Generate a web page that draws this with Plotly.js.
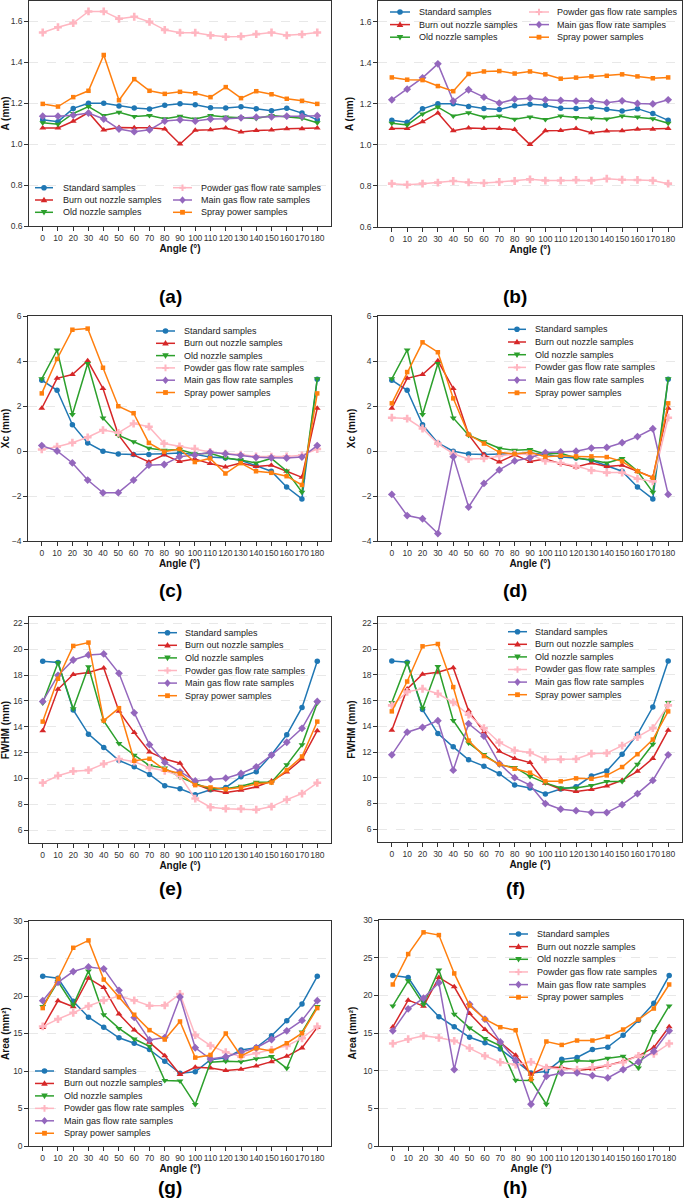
<!DOCTYPE html>
<html><head><meta charset="utf-8">
<script src="https://cdn.plot.ly/plotly-3.0.1.min.js"></script>
<style>html,body{margin:0;padding:0;background:#fff}#chart{width:685px;height:1201px}</style>
</head><body><div id="chart"></div>
<script>
const angles = [0,10,20,30,40,50,60,70,80,90,100,110,120,130,140,150,160,170,180];
const seriesNames = ['Standard samples','Burn out nozzle samples','Old nozzle samples','Powder gas flow rate samples','Main gas flow rate samples','Spray power samples'];
const panelLabels = ['(a)','(b)','(c)','(d)','(e)','(f)','(g)','(h)'];
const yTitles = ['A (mm)','A (mm)','Xc (mm)','Xc (mm)','FWHM (mm)','FWHM (mm)','Area (mm²)','Area (mm²)'];

// A (mm)
const A_standard = [1.12,1.11,1.175,1.20,1.20,1.187,1.177,1.172,1.19,1.198,1.193,1.178,1.177,1.183,1.173,1.164,1.176,1.152,1.119];
const A_burn = [1.079,1.079,1.112,1.155,1.069,1.082,1.080,1.080,1.074,1.001,1.068,1.070,1.079,1.059,1.067,1.069,1.076,1.076,1.079];
const A_old = [1.105,1.097,1.150,1.184,1.140,1.156,1.135,1.140,1.124,1.136,1.123,1.140,1.133,1.131,1.126,1.140,1.135,1.127,1.105];
const A_powder_a = [1.546,1.572,1.592,1.649,1.649,1.613,1.623,1.598,1.559,1.545,1.545,1.532,1.525,1.527,1.538,1.546,1.532,1.537,1.546];
const A_powder_b = [0.811,0.806,0.811,0.816,0.824,0.817,0.814,0.819,0.824,0.832,0.826,0.826,0.829,0.826,0.835,0.830,0.829,0.826,0.811];
const A_main_a = [1.137,1.137,1.142,1.152,1.123,1.074,1.061,1.070,1.113,1.119,1.113,1.123,1.124,1.129,1.132,1.134,1.137,1.136,1.139];
const A_main_b = [1.219,1.271,1.326,1.394,1.213,1.268,1.232,1.203,1.222,1.227,1.219,1.216,1.213,1.214,1.205,1.214,1.201,1.199,1.219];
const A_spray_a = [1.197,1.184,1.230,1.261,1.436,1.215,1.318,1.261,1.246,1.256,1.249,1.230,1.279,1.225,1.259,1.244,1.222,1.212,1.197];
const A_spray_b = [1.328,1.317,1.315,1.286,1.261,1.345,1.357,1.359,1.347,1.357,1.343,1.322,1.327,1.333,1.336,1.343,1.333,1.324,1.328];

// Xc (mm)
const Xc_standard = [3.15,2.70,1.17,0.36,-0.01,-0.13,-0.16,-0.15,-0.12,-0.09,-0.15,-0.27,-0.31,-0.41,-0.65,-0.90,-1.60,-2.13,3.19];
const Xc_burn = [1.90,3.23,3.40,4.01,2.78,0.73,-0.17,-0.49,-0.17,-0.47,-0.36,-0.56,-0.71,-0.53,-0.69,-0.63,-0.90,-1.17,1.90];
const Xc_old = [3.21,4.49,1.62,3.89,1.47,0.70,0.41,0.12,0.03,0.07,-0.13,-0.10,-0.31,-0.40,-0.53,-0.33,-0.89,-1.83,3.21];
const Xc_powder_c = [0.07,0.19,0.37,0.61,0.93,0.81,1.22,1.08,0.33,0.21,0.10,-0.04,-0.12,-0.16,-0.24,-0.25,-0.24,-0.19,0.09];
const Xc_powder_d = [1.48,1.44,1.00,0.33,-0.12,-0.36,-0.33,-0.22,-0.13,-0.15,-0.44,-0.53,-0.67,-0.86,-0.96,-0.96,-1.23,-1.35,1.48];
const Xc_main_c = [0.24,0.0,-0.53,-1.29,-1.86,-1.85,-1.29,-0.63,-0.60,-0.25,-0.18,-0.06,-0.12,-0.19,-0.28,-0.30,-0.31,-0.27,0.24];
const Xc_main_d = [-1.93,-2.87,-3.01,-3.67,-0.25,-2.49,-1.44,-0.84,-0.44,-0.30,-0.07,-0.04,-0.01,0.13,0.16,0.37,0.64,0.99,-1.93];
const Xc_spray_c = [2.56,4.09,5.39,5.44,3.70,1.99,1.68,0.36,-0.03,0.09,-0.49,-0.33,-1.00,-0.54,-0.90,-0.97,-1.12,-1.51,2.56];
const Xc_spray_d = [2.12,3.51,4.83,4.39,2.34,0.73,0.33,-0.06,-0.13,-0.06,-0.25,-0.21,-0.24,-0.24,-0.27,-0.46,-0.90,-1.19,2.12];

// FWHM (mm)
const F_standard = [19.07,18.98,15.3,13.43,12.40,11.39,10.9,10.31,9.43,9.2,8.74,9.12,9.3,10.13,10.52,11.83,13.38,15.5,19.07];
const F_burn = [13.7,16.9,18.05,18.2,18.55,15.2,13.55,12.05,11.5,11.18,9.57,9.1,8.92,9.08,9.35,9.8,10.5,11.5,13.7];
const F_old = [15.85,18.95,15.4,18.65,14.45,12.7,11.8,11.0,10.8,10.1,9.6,9.2,9.2,9.4,9.7,9.7,11.05,12.6,15.85];
const F_powder_e = [9.66,10.21,10.56,10.64,11.13,11.5,11.3,10.82,10.59,10.2,8.44,7.77,7.66,7.64,7.58,7.82,8.36,8.83,9.66];
const F_powder_f = [15.63,16.68,16.92,16.53,15.86,14.9,13.85,12.74,12.12,11.96,11.42,11.42,11.45,11.88,11.91,12.5,13.15,13.85,15.63];
const F_main_e = [15.96,17.98,19.17,19.56,19.64,18.14,15.08,12.61,11.24,10.51,9.81,9.92,10.02,10.38,10.9,11.81,12.8,13.88,15.96];
const F_main_f = [11.78,13.54,13.92,14.44,10.59,14.2,13.23,11.1,10.0,9.43,7.99,7.55,7.44,7.29,7.29,7.9,8.76,9.79,11.78];
const F_spray_e = [14.4,17.72,20.26,20.52,14.48,15.44,11.37,11.52,10.67,10.38,9.48,9.3,9.17,9.3,9.58,9.68,10.64,11.7,14.4];
const F_spray_f = [15.16,17.48,20.22,20.4,17.05,12.89,11.68,11.06,10.7,10.39,9.72,9.72,9.95,9.92,10.18,10.83,11.83,12.97,15.16];

// Area (mm²)
const Ar_standard = [22.62,22.37,19.3,17.17,15.83,14.43,13.7,12.86,11.3,9.7,9.9,11.5,11.75,12.8,13.12,14.7,16.7,18.95,22.62];
const Ar_burn = [15.8,19.36,18.56,22.37,21.13,17.59,15.46,13.82,12.05,9.53,10.5,10.41,10.06,10.23,10.68,11.25,11.96,13.07,15.82];
const Ar_old = [18.6,21.93,18.79,23.35,17.5,15.68,14.27,13.29,8.73,8.68,5.54,11.16,11.3,11.25,11.65,11.92,10.37,15.2,18.6];
const Ar_powder_g = [15.94,16.92,17.77,18.66,19.42,20.0,19.42,18.71,18.75,20.27,14.78,13.39,12.5,11.92,12.37,12.81,13.35,14.37,15.94];
const Ar_powder_h = [13.6,14.18,14.62,14.36,13.96,12.98,11.96,11.12,10.81,11.16,10.41,10.19,10.15,10.46,10.72,11.12,11.96,12.23,13.6];
const Ar_main_g = [19.38,21.83,23.26,23.88,23.62,20.76,17.14,14.15,14.46,19.87,13.1,11.6,11.9,12.5,13.1,14.2,15.36,16.74,19.38];
const Ar_main_h = [15.29,18.21,19.63,21.67,10.15,18.83,16.84,13.82,11.39,5.54,9.26,9.7,9.7,9.35,9.04,10.15,11.16,12.58,15.29];
const Ar_spray_g = [18.39,22.3,26.43,27.41,22.19,19.87,17.5,15.45,14.2,16.6,11.79,12.14,15.0,12.0,13.04,12.68,13.7,15.04,18.39];
const Ar_spray_h = [21.44,25.48,28.36,28.0,22.91,18.65,16.84,15.77,15.37,8.86,13.87,13.42,14.0,14.0,14.49,15.46,16.79,18.25,21.44];

const panelData = [
  [A_standard,A_burn,A_old,A_powder_a,A_main_a,A_spray_a],
  [A_standard,A_burn,A_old,A_powder_b,A_main_b,A_spray_b],
  [Xc_standard,Xc_burn,Xc_old,Xc_powder_c,Xc_main_c,Xc_spray_c],
  [Xc_standard,Xc_burn,Xc_old,Xc_powder_d,Xc_main_d,Xc_spray_d],
  [F_standard,F_burn,F_old,F_powder_e,F_main_e,F_spray_e],
  [F_standard,F_burn,F_old,F_powder_f,F_main_f,F_spray_f],
  [Ar_standard,Ar_burn,Ar_old,Ar_powder_g,Ar_main_g,Ar_spray_g],
  [Ar_standard,Ar_burn,Ar_old,Ar_powder_h,Ar_main_h,Ar_spray_h]
];

// ---- styling / layout ----
const W = 685, H = 1201;
const colors = ['#1f77b4','#d62728','#2ca02c','#ffb6c1','#9467bd','#ff7f0e'];
const symbols = ['circle','triangle-up','triangle-down','cross','diamond','square'];
const msizes = [5.5,6,6,6.5,6,4.5];
const FONT = 'Liberation Sans, Arial, Helvetica, sans-serif';
// plot boxes in pixels: [left, right, top, bottom]
const boxes = [
  [29,331,1,226],[378,682,1,227],
  [28,331,316,541],[378,682,316,541],
  [29,331,617,843],[378,682,617,842],
  [29,331,921,1146],[379,683,920,1146]
];
const yRanges = [[0.6,1.7],[0.6,1.7],[-4,6],[-4,6],[5,22.5],[5,22.5],[0,30],[0,30]];
const yDticks = [0.2,0.2,2,2,2,2,5,5];
const yTick0 = [0.6,0.6,-4,-4,6,6,0,0];
const labelPos = [[170,296],[515,296],[170,590],[515,590],[170,888],[515,888],[170,1187],[515,1187]];
const legendSpecs = [
  {cols:[{x0:35,x1:53,tx:61,idx:[0,1,2]},{x0:173,x1:192,tx:199,idx:[3,4,5]}], y0:187.7, dy:12.3},
  {cols:[{x0:390,x1:410,tx:417,idx:[0,1,2]},{x0:529,x1:549,tx:555,idx:[3,4,5]}], y0:12, dy:12.6},
  {cols:[{x0:156,x1:175,tx:182,idx:[0,1,2,3,4,5]}], y0:331, dy:12.3},
  {cols:[{x0:508,x1:526,tx:533,idx:[0,1,2,3,4,5]}], y0:329.3, dy:12.7},
  {cols:[{x0:158,x1:177,tx:183,idx:[0,1,2,3,4,5]}], y0:632.7, dy:12.6},
  {cols:[{x0:508,x1:527,tx:533,idx:[0,1,2,3,4,5]}], y0:631.7, dy:12.6},
  {cols:[{x0:35,x1:54,tx:62,idx:[0,1,2,3,4,5]}], y0:1071, dy:12.45},
  {cols:[{x0:509,x1:528,tx:535,idx:[0,1,2,3,4,5]}], y0:934, dy:12.65}
];
const markerPaths = {
  'triangle-up':'M-3.3,-2.3L3.3,-2.3L0,3.3Z',
  'triangle-down':'M-3.3,2.3L3.3,2.3L0,-3.3Z',
  'cross':'M-1,-3.3L1,-3.3L1,-1L3.3,-1L3.3,1L1,1L1,3.3L-1,3.3L-1,1L-3.3,1L-3.3,-1L-1,-1Z',
  'diamond':'M0,3.8L3.2,0L0,-3.8L-3.2,0Z',
  'square':'M-2.4,-2.4L2.4,-2.4L2.4,2.4L-2.4,2.4Z'
};

const traces = [];
const layout = {
  width: W, height: H, margin:{l:0,r:0,t:0,b:0},
  paper_bgcolor:'#fff', plot_bgcolor:'#fff',
  font:{family:FONT, color:'#222'},
  showlegend:false, hovermode:false,
  shapes:[], annotations:[]
};

boxes.forEach((b,p)=>{
  const n = p===0 ? '' : String(p+1);
  const xa = 'xaxis'+n, ya = 'yaxis'+n;
  layout[xa] = {
    domain:[b[0]/W, b[1]/W], anchor:'y'+n, range:[-9,189],
    tickvals: angles, tickangle:0, ticks:'outside', ticklen:3.5, tickwidth:1, tickcolor:'#333',
    showline:true, mirror:true, linecolor:'#333', linewidth:1.2,
    showgrid:false, zeroline:false,
    tickfont:{size:8.5, color:'#333', family:FONT},
    title:{text:'Angle (°)', font:{size:10, color:'#111', family:FONT, weight:'bold'}, standoff:3}
  };
  layout[ya] = {
    domain:[1-b[3]/H, 1-b[2]/H], anchor:'x'+n, range:yRanges[p],
    tick0:yTick0[p], dtick:yDticks[p], ticks:'outside', ticklen:3.5, tickwidth:1, tickcolor:'#333',
    showline:true, mirror:true, linecolor:'#333', linewidth:1.2,
    showgrid:true, gridcolor:'#e2e2e2', griddash:'dash', gridwidth:0.8, zeroline:false,
    tickfont:{size:8.5, color:'#333', family:FONT},
    tickformat: p<2 ? '.1f' : 'd',
    title:{text:yTitles[p], font:{size:10, color:'#111', family:FONT, weight:'bold'}, standoff:4}
  };
  panelData[p].forEach((arr,s)=>{
    traces.push({
      x: angles, y: arr, xaxis:'x'+n, yaxis:'y'+n, name: seriesNames[s],
      type:'scatter', mode:'lines+markers',
      line:{color:colors[s], width:1.5},
      marker:{symbol:symbols[s], size:msizes[s], color:colors[s], line:{width:0}},
      showlegend:false
    });
  });
  layout.annotations.push({xref:'paper', yref:'paper', x:labelPos[p][0]/W, y:1-labelPos[p][1]/H,
    xanchor:'center', yanchor:'middle', showarrow:false, text:panelLabels[p],
    font:{size:19, color:'#000', family:FONT, weight:'bold'}});
  const L = legendSpecs[p];
  L.cols.forEach(c=>{
    c.idx.forEach((s,i)=>{
      const y = L.y0 + i*L.dy;
      const yp = 1 - y/H;
      layout.shapes.push({type:'line', xref:'paper', yref:'paper', x0:c.x0/W, x1:c.x1/W, y0:yp, y1:yp,
        line:{color:colors[s], width:1.5}});
      const cx = (c.x0+c.x1)/2/W;
      if (symbols[s]==='circle') {
        layout.shapes.push({type:'circle', xref:'paper', yref:'paper', xsizemode:'pixel', ysizemode:'pixel',
          xanchor:cx, yanchor:yp, x0:-2.8, x1:2.8, y0:-2.8, y1:2.8, fillcolor:colors[s], line:{width:0}});
      } else {
        layout.shapes.push({type:'path', xref:'paper', yref:'paper', xsizemode:'pixel', ysizemode:'pixel',
          xanchor:cx, yanchor:yp, path:markerPaths[symbols[s]], fillcolor:colors[s], line:{width:0}});
      }
      layout.annotations.push({xref:'paper', yref:'paper', x:c.tx/W, y:yp, xanchor:'left', yanchor:'middle',
        showarrow:false, text:seriesNames[s], font:{size:9, color:'#222', family:FONT}});
    });
  });
});

Plotly.newPlot('chart', traces, layout, {staticPlot:true, displayModeBar:false});
</script>
</body></html>
